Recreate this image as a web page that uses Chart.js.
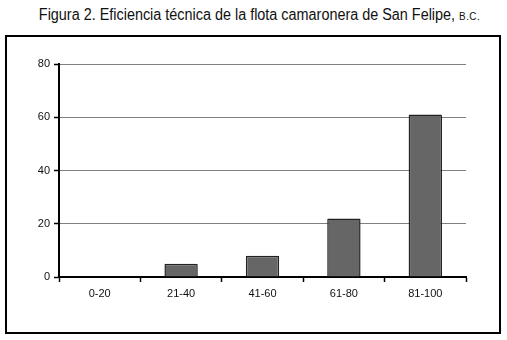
<!DOCTYPE html>
<html>
<head>
<meta charset="utf-8">
<script src="https://cdn.jsdelivr.net/npm/chart.js@4/dist/chart.umd.min.js"></script>
<style>
  html, body { margin: 0; padding: 0; background: #fff; }
  #wrap { position: relative; width: 507px; height: 340px; overflow: hidden; }
  #title {
    position: absolute; left: 6px; top: 6px; width: 507px; text-align: center;
    font-family: "Liberation Sans Narrow", "Liberation Sans", Arial, sans-serif;
    font-size: 16px; color: #111; white-space: nowrap;
    transform: scaleX(0.9); transform-origin: 50% 50%;
  }
  #title .sc { font-size: 11px; letter-spacing: 0.5px; }
  #box {
    position: absolute; left: 5px; top: 35px; width: 492px; height: 295px;
    border: 2px solid #000;
  }
  #chart { position: absolute; left: 0; top: 0; }
</style>
</head>
<body>
<div id="wrap">
  <div id="title">Figura 2. Eficiencia técnica de la flota camaronera de San Felipe, <span class="sc">B.C.</span></div>
  <div id="box"></div>
  <canvas id="chart" width="507" height="340"></canvas>
</div>
<script>
// Eficiencia técnica – flota camaronera, San Felipe B.C.
const categories = ['0-20', '21-40', '41-60', '61-80', '81-100'];
const values = [0, 5, 8, 22, 61];
const yTicks = [0, 20, 40, 60, 80];

const ctx = document.getElementById('chart').getContext('2d');

new Chart(ctx, {
  type: 'bar',
  data: {
    labels: categories,
    datasets: [{
      data: values,
      backgroundColor: '#666666',
      borderColor: '#222222',
      borderWidth: 1.5,
      borderRadius: 1,
      categoryPercentage: 1,
      barPercentage: 0.41
    }]
  },
  options: {
    responsive: false,
    animation: false,
    layout: { padding: { left: 0, top: 64, right: 41, bottom: 0 } },
    plugins: { legend: { display: false }, tooltip: { enabled: false }, title: { display: false } },
    scales: {
      x: {
        offset: true,
        grid: { offset: true, drawOnChartArea: false, tickLength: 5, tickColor: '#000', tickWidth: 1.5 },
        border: { color: '#000', width: 2 },
        ticks: { color: '#111', padding: 5, font: { family: 'Liberation Sans, Arial, sans-serif', size: 11 } },
        afterFit: s => { s.height = 63; }
      },
      y: {
        min: 0, max: 80,
        afterBuildTicks: s => { s.ticks = yTicks.map(v => ({ value: v })); },
        grid: {
          color: ctx => ctx.tick && ctx.tick.value === 0 ? 'rgba(0,0,0,0)' : '#808080',
          lineWidth: 1,
          tickLength: 5, tickColor: '#000', tickWidth: 1.5
        },
        border: { color: '#000', width: 2 },
        ticks: { color: '#111', padding: 4, font: { family: 'Liberation Sans, Arial, sans-serif', size: 11 } },
        afterFit: s => { s.width = 59; }
      }
    }
  }
});
</script>
</body>
</html>
